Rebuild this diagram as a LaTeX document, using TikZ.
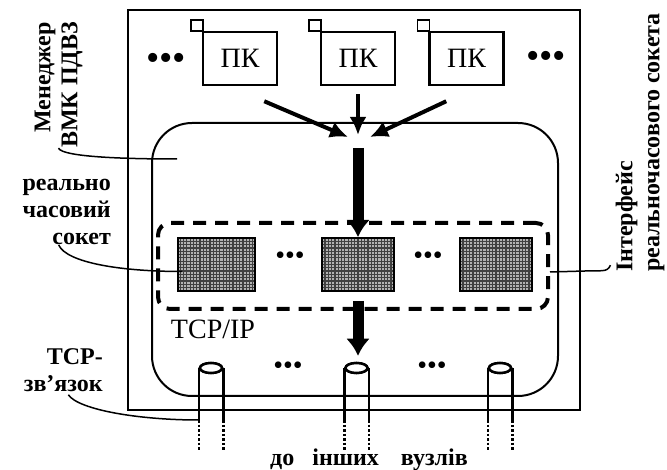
\documentclass[tikz,border=0pt]{standalone}
\usepackage{fontspec}
\setmainfont{Liberation Serif}
\usetikzlibrary{arrows.meta,positioning,shapes.geometric}
\tikzset{
  hostbox/.style={rectangle,draw,line width=2pt,minimum width=452pt,minimum height=400pt},
  vmkbox/.style={rectangle,draw,line width=2pt,rounded corners=40pt,minimum width=406pt,minimum height=273pt},
  rtbox/.style={rectangle,draw,line width=4pt,dash pattern=on 13pt off 9pt,rounded corners=12pt,minimum width=390pt,minimum height=86pt},
  pcbox/.style={rectangle,draw,line width=2.5pt,minimum width=74pt,minimum height=53pt,fill=white,font=\fontsize{28}{30}\selectfont},
  tabbox/.style={rectangle,draw,line width=1.5pt,minimum width=12pt,minimum height=11pt,inner sep=0pt,fill=white},
  socknode/.style={rectangle,draw,line width=2pt,minimum width=72pt,minimum height=53pt,fill=black!30,
    path picture={\draw[line width=1.2pt,black!75] (path picture bounding box.south west) grid[step=3.3pt] (path picture bounding box.north east);}},
  cyltop/.style={ellipse,draw,line width=2.5pt,minimum width=22pt,minimum height=10pt,inner sep=0pt,fill=white},
  wire/.style={line width=2.5pt},
  tailwire/.style={line width=2.5pt,dash pattern=on 2.5pt off 2pt},
  leader/.style={line width=1.5pt},
  pcarrow/.style={-{Latex[length=18pt,width=17pt]},line width=4pt},
  bigarrow/.style={-{Latex[length=17pt,width=24pt]},line width=11pt},
  bigdots/.style={font=\fontsize{38}{38}\selectfont,inner sep=0pt},
  smalldots/.style={font=\fontsize{28}{28}\selectfont,inner sep=0pt},
  lbl/.style={font=\fontsize{24}{27}\selectfont\bfseries,inner sep=0pt}
}

\begin{document}
\begin{tikzpicture}[x=1pt,y=-1pt]
  \useasboundingbox (0,0) rectangle (667,470);
  \node[hostbox] (host) at (354,210) {};
  \node[vmkbox] (vmk) at (355,259.5) {};
  \node[rtbox] (rt) at (353,266) {};
  \node[pcbox] (pc1) at (240,58.5) {ПК};
  \node[pcbox] (pc2) at (358,58.5) {ПК};
  \node[pcbox] (pc3) at (466.5,58.5) {ПК};
  \node[tabbox,anchor=south east] (tab1) at ([xshift=2pt,yshift=-1pt]pc1.north west) {};
  \node[tabbox,anchor=south east] (tab2) at ([xshift=2pt,yshift=-1pt]pc2.north west) {};
  \node[tabbox,anchor=south east] (tab3) at ([xshift=2pt,yshift=-1pt]pc3.north west) {};
  \node[bigdots] (dotsL) at (166,62) {•••};
  \node[bigdots] (dotsR) at (546,60) {•••};
  \coordinate (joinL) at (348,137);
  \coordinate (joinM) at (358,135);
  \coordinate (joinR) at (370,137);
  \coordinate (merge) at (358,148);
  \draw[pcarrow] ([xshift=-14pt,yshift=-15pt]pc1.south east) -- (joinL);
  \draw[pcarrow] ([yshift=-8pt]pc2.south) -- (joinM);
  \draw[pcarrow] ([xshift=18pt,yshift=-15pt]pc3.south west) -- (joinR);
  \node[socknode,minimum width=77pt] (sock1) at (216.5,264.5) {};
  \node[socknode] (sock2) at (358,264.5) {};
  \node[socknode] (sock3) at (496,264.5) {};
  \node[smalldots] (dotsS1) at (290,258) {•••};
  \node[smalldots] (dotsS2) at (428,258) {•••};
  \draw[bigarrow] (merge) -- (sock2.north);
  \node[font=\fontsize{28}{30}\selectfont] (tcpip) at (213,329) {TCP/IP};
  % кабелі
  \node[cyltop] (cyl1) at (211,368) {};
  \node[cyltop] (cyl2) at (356.5,368) {};
  \node[cyltop] (cyl3) at (500,368) {};
  \draw[wire] (cyl1.west) -- ++(0,52) (cyl1.east) -- ++(0,52);
  \draw[wire] (cyl2.west) -- ++(0,52) (cyl2.east) -- ++(0,52);
  \draw[wire] (cyl3.west) -- ++(0,52) (cyl3.east) -- ++(0,52);
  \draw[tailwire] ([yshift=-52pt]cyl1.west) -- ++(0,30) ([yshift=-52pt]cyl1.east) -- ++(0,30);
  \draw[tailwire] ([yshift=-52pt]cyl2.west) -- ++(0,30) ([yshift=-52pt]cyl2.east) -- ++(0,30);
  \draw[tailwire] ([yshift=-52pt]cyl3.west) -- ++(0,30) ([yshift=-52pt]cyl3.east) -- ++(0,30);
  \node[cyltop] at (cyl1) {};
  \node[cyltop] at (cyl2) {};
  \node[cyltop] at (cyl3) {};
  \node[smalldots] (dotsC1) at (288,368) {•••};
  \node[smalldots] (dotsC2) at (432,368) {•••};
  \draw[bigarrow] ([yshift=-9pt]sock2.south) -- ([yshift=6pt]sock2.south |- cyl2.north);
  % підписи
  \node[lbl,rotate=90,align=right] (mgrlbl) at (58.5,85) {Менеджер\\ВМК ПДВЗ};
  \node[lbl,align=right,anchor=east] (socklbl) at (111,212) {реально\\часовий\\сокет};
  \node[lbl,align=right,anchor=east] (tcplbl) at (103,370) {TCP-\\зв’язок};
  \node[lbl,rotate=90,align=left] (ifclbl) at (640,142.5) {Інтерфейс\\реальночасового сокета};
  \node[lbl] (destlbl) at (369,460) {до\hspace{18pt}інших\hspace{22pt}вузлів};
  \coordinate (mgrtip) at (177,159);
  \draw[leader] (mgrlbl.west) .. controls +(4,9) and +(-50,0) .. (mgrtip);
  \draw[leader] ([xshift=-8pt]socklbl.south) .. controls +(8,18) and +(-60,0) .. ([xshift=5pt,yshift=-7pt]sock1.west);
  \draw[leader] ([xshift=5pt,yshift=-3pt]tcplbl.south) .. controls +(10,15) and +(-60,0) .. ([yshift=-52pt]cyl1.west);
  \draw[leader] ([yshift=-6pt]rt.east) -- ++(35,-1) .. controls +(15,-1) and +(-3,8) .. ([shift={(-5pt,7pt)}]ifclbl.north west);
\end{tikzpicture}
\end{document}
